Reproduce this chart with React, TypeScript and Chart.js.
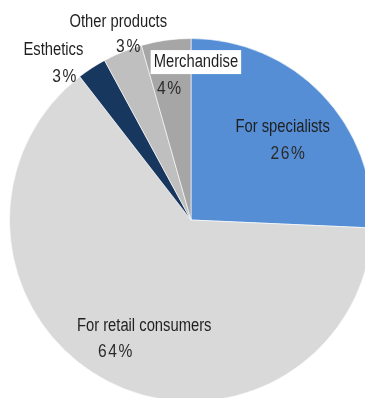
import React, { useEffect, useRef } from "react";
import { Chart, registerables } from "chart.js";

Chart.register(...registerables);

const categories = ["For specialists", "For retail consumers", "Esthetics", "Other products", "Merchandise"];
const shares = [25.7, 63.8, 2.6, 3.5, 4.4];
const shareLabels = ["26%", "64%", "3%", "3%", "4%"];
const colors = ["#558ED5", "#D9D9D9", "#17375E", "#BFBFBF", "#A6A6A6"];

// label placement, offsets from the pie centre in units of radius: [nameX, nameY, pctX, pctY]
const labelLayout = [
  [0.505, -0.511, 0.533, -0.363],
  [-0.258, 0.582, -0.418, 0.724],
  [-0.758, -0.934, -0.698, -0.791],
  [-0.401, -1.093, -0.346, -0.956],
  [0.027, -0.87, -0.121, -0.722],
];
const boxedLabel = [false, false, false, false, true];

const NAME_FONT = '18px "Liberation Sans", Arial, sans-serif';
const PCT_FONT = '19px "Liberation Sans", Arial, sans-serif';
const NARROW = 0.82;

const labelPlugin = {
  id: "sliceLabels",
  afterDatasetsDraw(chart: any) {
    const meta = chart.getDatasetMeta(0);
    const ctx = chart.ctx;
    meta.data.forEach((arc: any, i: number) => {
      const { x, y, outerRadius } = arc.getProps(["x", "y", "outerRadius"], true);
      const L = labelLayout[i];
      const nx = x + L[0] * outerRadius;
      const ny = y + L[1] * outerRadius;
      const px = x + L[2] * outerRadius;
      const py = y + L[3] * outerRadius;
      ctx.save();
      ctx.textAlign = "center";
      ctx.textBaseline = "middle";
      ctx.font = NAME_FONT;
      if (boxedLabel[i]) {
        const w = ctx.measureText(categories[i]).width * NARROW;
        ctx.fillStyle = "#FFFFFF";
        ctx.fillRect(nx - w / 2 - 3, ny - 12, w + 6, 24);
      }
      ctx.translate(nx, ny);
      ctx.scale(NARROW, 1);
      ctx.fillStyle = "#1F1F1F";
      ctx.fillText(categories[i], 0, 0);
      ctx.restore();

      ctx.save();
      ctx.textAlign = "center";
      ctx.textBaseline = "middle";
      ctx.font = PCT_FONT;
      (ctx as any).letterSpacing = "2px";
      ctx.translate(px, py);
      ctx.scale(0.82, 1);
      ctx.fillStyle = "#2B2B2B";
      ctx.fillText(shareLabels[i], 1, 0);
      ctx.restore();
    });
  },
};

export default function App() {
  const ref = useRef<HTMLCanvasElement>(null);
  useEffect(() => {
    if (!ref.current) return;
    const chart = new Chart(ref.current, {
      type: "pie",
      data: {
        labels: categories,
        datasets: [
          {
            data: shares,
            backgroundColor: colors,
            borderColor: "rgba(255,255,255,0.6)",
            borderWidth: 1,
          },
        ],
      },
      options: {
        animation: false,
        responsive: false,
        maintainAspectRatio: false,
        layout: { padding: { left: 9, right: 27, top: 38, bottom: 38 } },
        plugins: {
          legend: { display: false },
          tooltip: { enabled: false },
        },
      },
      plugins: [labelPlugin],
    });
    return () => chart.destroy();
  }, []);
  return (
    <div
      style={{
        position: "fixed",
        left: 0,
        top: 0,
        width: 365,
        height: 398,
        overflow: "hidden",
        background: "#FFFFFF",
      }}
    >
      <canvas ref={ref} width={400} height={440} style={{ position: "absolute", left: 0, top: 0, width: 400, height: 440 }} />
    </div>
  );
}
